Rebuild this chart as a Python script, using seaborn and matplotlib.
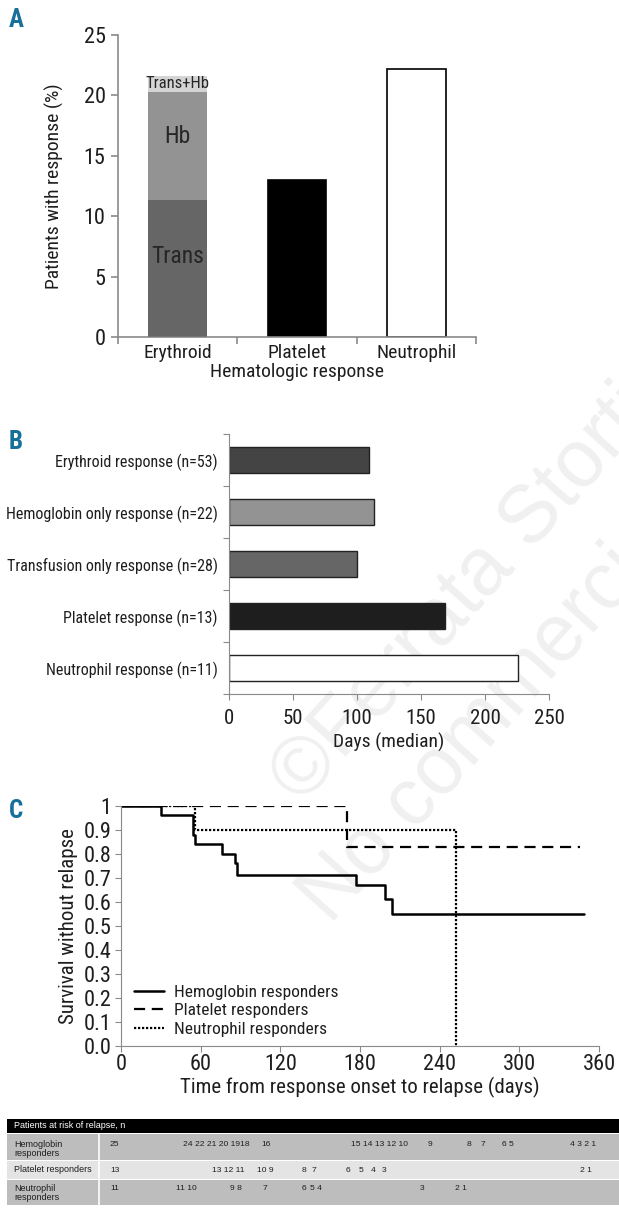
import numpy as np
import pandas as pd
import matplotlib
matplotlib.use("Agg")
import matplotlib.pyplot as plt
from matplotlib.patches import Rectangle
from matplotlib.lines import Line2D
import seaborn as sns

# ---- panel A: patients with response (%)
response_types = ["Erythroid", "Platelet", "Neutrophil"]
erythroid_parts = ["Trans", "Hb", "Trans+Hb"]
erythroid_values = [11.3, 8.95, 1.35]
platelet_pct = 13.0
neutrophil_pct = 22.2

# ---- panel B: median days to response
median_labels = ["Erythroid response (n=53)", "Hemoglobin only response (n=22)",
                 "Transfusion only response (n=28)", "Platelet response (n=13)",
                 "Neutrophil response (n=11)"]
median_days = [109, 113, 100, 169, 226]

# ---- panel C: survival without relapse (step curves)
hb_days = [0, 30, 54, 56, 76, 86, 87, 177, 199, 204, 349]
hb_surv = [1.0, 0.96, 0.88, 0.84, 0.80, 0.76, 0.71, 0.67, 0.61, 0.55, 0.55]
plt_days = [0, 170, 346]
plt_surv = [1.0, 0.83, 0.83]
neu_days = [0, 56, 252]
neu_surv = [1.0, 0.90, 0.0]
curve_names = ["Hemoglobin responders", "Platelet responders", "Neutrophil responders"]

# ---- at-risk table
risk_title = "Patients at risk of relapse, n"
risk_rows = ["Hemoglobin\nresponders", "Platelet responders", "Neutrophil\nresponders"]
risk_hb = ["25", "24 22 21 20 1918", "16", "15 14 13 12 10", "9", "8", "7", "6 5", "4 3 2 1"]
risk_plt = ["13", "13 12 11", "10 9", "8", "7", "6", "5", "4", "3", "2 1"]
risk_neu = ["11", "11 10", "9 8", "7", "6", "5 4", "3", "2 1"]

W, H = 619, 1214
sns.set_style("ticks")
narrow = ["Roboto Condensed", "Archivo Narrow", "PT Sans Narrow", "DejaVu Sans"]
arial = ["Liberation Sans", "DejaVu Sans"]
plt.rcParams["font.family"] = narrow
plt.rcParams["axes.edgecolor"] = "#8a8a8a"
plt.rcParams["xtick.color"] = "#8a8a8a"
plt.rcParams["ytick.color"] = "#8a8a8a"
plt.rcParams["xtick.labelcolor"] = "#1e1e1e"
plt.rcParams["ytick.labelcolor"] = "#1e1e1e"
plt.rcParams["text.color"] = "#1e1e1e"
plt.rcParams["axes.labelcolor"] = "#1e1e1e"

fig = plt.figure(figsize=(W / 100, H / 100), dpi=100)


def box(left, top, right, bottom):
    return [left / W, 1 - bottom / H, (right - left) / W, (bottom - top) / H]


# background layer: watermark, panel letters, table (pixel coordinates)
bg = fig.add_axes([0, 0, 1, 1], zorder=0)
bg.set_xlim(0, W)
bg.set_ylim(H, 0)
bg.axis("off")
bg.text(302, 805, "\u00a9Ferrata Storti", fontsize=58, rotation=48, color="#f0f0f0",
        ha="left", va="baseline", rotation_mode="anchor", family=arial, clip_on=True)
bg.text(330, 925, "No commercial use", fontsize=58, rotation=48, color="#f0f0f0",
        ha="left", va="baseline", rotation_mode="anchor", family=arial, clip_on=True)

for letter, y in [("A", 20), ("B", 442), ("C", 811)]:
    bg.text(9, y, letter, fontsize=18, fontweight="bold", color="#17709a",
            ha="left", va="center")

# ---------------- panel A
axA = fig.add_axes(box(118, 35, 476, 337), zorder=2)
axA.patch.set_visible(False)
cum = np.cumsum(erythroid_values)
shades = ["#666666", "#939393", "#d4d4d4"]
for i in [2, 1, 0]:
    dfa = pd.DataFrame({"cat": response_types, "val": [cum[i], 0, 0]})
    sns.barplot(data=dfa, x="cat", y="val", order=response_types, color=shades[i],
                width=0.49, ax=axA, edgecolor="none", saturation=1)
dfo = pd.DataFrame({"cat": response_types, "val": [0, platelet_pct, neutrophil_pct]})
sns.barplot(data=dfo, x="cat", y="val", order=response_types, hue="cat",
            palette=["white", "black", "white"], legend=False, width=0.49, ax=axA,
            edgecolor="black", linewidth=1.2, saturation=1)
bottoms = np.concatenate([[0], cum[:-1]])
part_sizes = [17, 17, 12]
part_shift = [1.0, 0.8, 0.05]
for name, b, v, fs, sh in zip(erythroid_parts, bottoms, erythroid_values, part_sizes, part_shift):
    axA.text(0, b + v / 2 + sh, name, ha="center", va="center", fontsize=fs, color="#262626")
axA.set_xlim(-0.5, 2.5)
axA.set_ylim(0, 25)
axA.set_yticks(range(0, 26, 5))
axA.set_xticks([-0.5, 0.5, 1.5, 2.5], minor=False)
axA.set_xticklabels([])
axA.set_xticks([0, 1, 2], minor=True)
axA.set_xticklabels(response_types, minor=True, fontsize=14)
axA.tick_params(axis="x", which="minor", length=0, pad=5)
axA.tick_params(axis="x", which="major", length=5, width=1.2)
axA.tick_params(axis="y", labelsize=16, length=5, width=1.2, pad=4)
axA.set_xlabel("Hematologic response", fontsize=14, labelpad=1)
axA.set_ylabel("Patients with response (%)", fontsize=14, labelpad=14)
sns.despine(ax=axA)
for s in ["left", "bottom"]:
    axA.spines[s].set_linewidth(1.2)

# ---------------- panel B
axB = fig.add_axes(box(229, 434, 549, 694), zorder=2)
axB.patch.set_visible(False)
dfb = pd.DataFrame({"label": median_labels, "days": median_days})
sns.barplot(data=dfb, x="days", y="label", hue="label", orient="h", legend=False,
            palette=["#444444", "#939393", "#666666", "#1e1e1e", "#ffffff"],
            width=0.5, edgecolor="#222222", linewidth=1.0, saturation=1, ax=axB)
axB.set_xlim(0, 250)
axB.set_ylim(4.5, -0.5)
axB.set_xticks(range(0, 251, 50))
axB.set_yticks(np.arange(-0.5, 5, 1.0))
axB.set_yticklabels([])
axB.set_yticks(range(5), minor=True)
axB.set_yticklabels(median_labels, minor=True, fontsize=11.5)
axB.tick_params(axis="y", which="minor", length=0, pad=8)
axB.tick_params(axis="y", which="major", length=4)
axB.tick_params(axis="x", labelsize=15, length=4, pad=7)
axB.set_xlabel("Days (median)", fontsize=14, labelpad=3)
axB.set_ylabel("")
sns.despine(ax=axB)

# ---------------- panel C
axC = fig.add_axes(box(121, 805.7, 599, 1045.7), zorder=2)
axC.patch.set_visible(False)
curves = [(hb_days, hb_surv, "-", 1.8), (plt_days, plt_surv, (0, (5, 3)), 1.6),
          (neu_days, neu_surv, (0, (1, 0.8)), 1.6)]
handles = []
for name, (d, s, ls, lw) in zip(curve_names, curves):
    sns.lineplot(x=d, y=s, drawstyle="steps-post", estimator=None, sort=False,
                 color="black", linestyle=ls, linewidth=lw, ax=axC)
    handles.append(Line2D([], [], color="black", linestyle=ls, linewidth=lw, label=name))
axC.set_xlim(0, 360)
axC.set_ylim(0, 1.0)
axC.set_xticks(range(0, 361, 60))
axC.set_yticks(np.round(np.arange(0, 1.01, 0.1), 1))
axC.set_yticklabels(["0.0"] + [f"{v:.1f}" for v in np.arange(0.1, 0.95, 0.1)] + ["1"])
axC.tick_params(axis="both", labelsize=16, length=4)
axC.tick_params(axis="y", pad=3)
axC.tick_params(axis="x", pad=2)
axC.set_xlabel("Time from response onset to relapse (days)", fontsize=15, labelpad=1)
axC.set_ylabel("Survival without relapse", fontsize=15, labelpad=4)
axC.legend(handles=handles, loc="lower left", bbox_to_anchor=(-0.02, -0.058), frameon=False,
           fontsize=12.5, handlelength=1.7, handletextpad=0.6, labelspacing=0.2,
           borderaxespad=0.9)
sns.despine(ax=axC)

# ---------------- at-risk table
left, right = 7, W
col_split = 99
rows_y = [(1133.5, 1160.3), (1161.3, 1178.7), (1179.7, 1205)]
row_cols = ["#bdbdbd", "#e4e4e4", "#bdbdbd"]
bg.add_patch(Rectangle((left, 1118.7), right - left, 14, color="black", lw=0))
bg.text(14, 1126, risk_title, color="white", fontsize=6.5, va="center", family=arial)
for (y0, y1), c in zip(rows_y, row_cols):
    bg.add_patch(Rectangle((left, y0), right - left, y1 - y0, color=c, lw=0))
bg.plot([col_split, col_split], [1133.5, 1205], color="white", lw=1.2)

hb_x = [110, 183, 261, 351, 428, 467, 481, 502, 570]
plt_x = [110, 212, 257, 302, 312, 346, 359, 371, 382, 580]
neu_x = [110, 176, 230, 263, 302, 310, 420, 455]
first_line = [1144.5, 1170, 1188.5]
for name, vals, xs, yl in zip(risk_rows, [risk_hb, risk_plt, risk_neu],
                              [hb_x, plt_x, neu_x], first_line):
    bg.text(14, yl - 4.5, name, fontsize=6.5, va="top", ha="left", linespacing=1.05,
            color="#1e1e1e", family=arial)
    for v, x in zip(vals, xs):
        bg.text(x, yl, v, fontsize=6.1, va="center", ha="left", color="#1e1e1e", family=arial)

fig.savefig("out.png", dpi=100)
